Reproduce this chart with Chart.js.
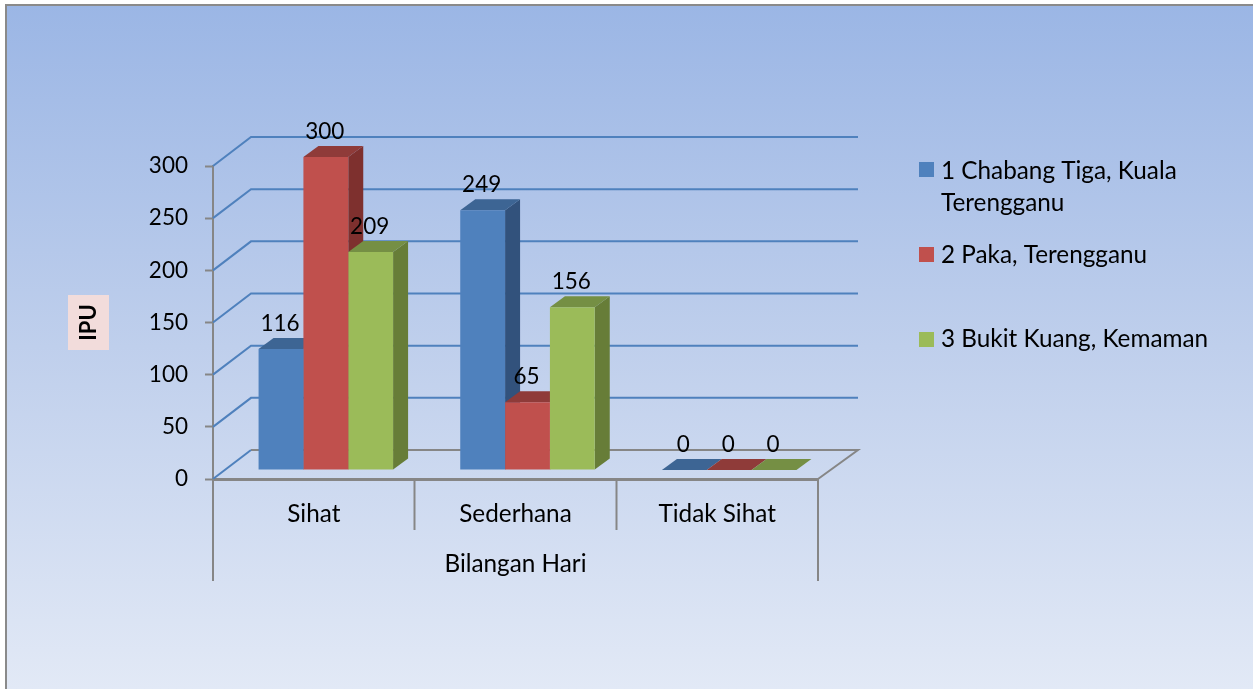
<!DOCTYPE html>
<html>
<head>
<meta charset="utf-8">
<style>html,body{margin:0;padding:0;background:#fff}canvas{display:block}</style>
<script src="https://cdn.jsdelivr.net/npm/chart.js@4/dist/chart.umd.js"></script>
</head>
<body>
<canvas id="c" width="1253" height="689"></canvas>
<script>
const categories = ["Sihat", "Sederhana", "Tidak Sihat"];
const seriesNames = ["1 Chabang Tiga, Kuala Terengganu", "2 Paka, Terengganu", "3 Bukit Kuang, Kemaman"];
const chabangTiga = [116, 249, 0];
const paka = [300, 65, 0];
const bukitKuang = [209, 156, 0];
const legendLines = [["1 Chabang Tiga, Kuala", "Terengganu"], ["2 Paka, Terengganu"], ["3 Bukit Kuang, Kemaman"]];
const axisTitleY = "IPU";
const axisTitleX = "Bilangan Hari";

const FONT = "Lato";
const SIZE = 24.3;
const NUM = 22.5;
const front = ["#4F81BD", "#C0504D", "#9BBB59"];
const side = ["#32527C", "#7E302E", "#677D38"];
const topFace = ["#3D6594", "#8F3B39", "#758F44"];
const GRID = "#4F81BD", AXIS = "#868686";
const WALL = {dx: 38, dy: -29};
const BAR = {dx: 12, dy: -9, sx: 15, sy: -11};

function poly(ctx, pts, fill) {
  ctx.beginPath();
  pts.forEach((p, i) => i ? ctx.lineTo(p[0], p[1]) : ctx.moveTo(p[0], p[1]));
  ctx.closePath();
  ctx.fillStyle = fill;
  ctx.fill();
}
function line(ctx, pts, color, w) {
  ctx.beginPath();
  pts.forEach((p, i) => i ? ctx.lineTo(p[0], p[1]) : ctx.moveTo(p[0], p[1]));
  ctx.strokeStyle = color;
  ctx.lineWidth = w;
  ctx.stroke();
}

const threeD = {
  id: "threeD",
  beforeDraw(chart) {
    const {ctx, width, height} = chart;
    ctx.save();
    const g = ctx.createLinearGradient(0, 5, 0, height);
    g.addColorStop(0, "#9BB6E5");
    g.addColorStop(0.5, "#BFCFEC");
    g.addColorStop(1, "#E2E9F6");
    ctx.fillStyle = g;
    ctx.fillRect(6, 5, width - 6, height - 5);
    line(ctx, [[6, height], [6, 5], [width, 5]], "#8A8A8A", 2);
    ctx.fillStyle = "#F2DCDB";
    ctx.fillRect(68, 295, 41, 55);
    ctx.restore();
  },
  beforeDatasetsDraw(chart) {
    const {ctx, chartArea: a} = chart;
    const y = chart.scales.y;
    ctx.save();
    y.ticks.forEach(t => {
      const py = y.getPixelForValue(t.value);
      if (t.value === 0) return;
      line(ctx, [[a.left, py], [a.left + WALL.dx, py + WALL.dy], [a.right + WALL.dx + 2, py + WALL.dy]], GRID, 2);
    });
    const b = a.bottom;
    line(ctx, [[a.left + WALL.dx, b + WALL.dy], [a.right + WALL.dx + 2, b + WALL.dy], [a.right, b]], AXIS, 2);
    line(ctx, [[a.left, b], [a.left + WALL.dx, b + WALL.dy]], GRID, 2);
    ctx.restore();

    // depth faces go under every front face, painted left to right
    ctx.save();
    ctx.translate(BAR.dx, BAR.dy);
    chart.data.datasets.forEach((ds, i) => {
      chart.getDatasetMeta(i).data.forEach(el => {
        const l = el.x - el.width / 2, r = el.x + el.width / 2;
        poly(ctx, [[r, el.y], [r + BAR.sx, el.y + BAR.sy], [r + BAR.sx, el.base + BAR.sy], [r, el.base]], side[i]);
        poly(ctx, [[l, el.y], [l + BAR.sx, el.y + BAR.sy], [r + BAR.sx, el.y + BAR.sy], [r, el.y]], topFace[i]);
      });
    });
  },
  afterDatasetsDraw(chart) {
    const {ctx, chartArea: a} = chart;
    ctx.restore();
    ctx.save();
    ctx.fillStyle = "#000";
    ctx.font = NUM + "px " + FONT;
    ctx.textAlign = "center";
    ctx.textBaseline = "middle";
    chart.data.datasets.forEach((ds, i) => {
      chart.getDatasetMeta(i).data.forEach((el, k) => {
        ctx.fillText(String(ds.data[k]), el.x + BAR.dx - 1, el.y + BAR.dy - 25);
      });
    });
    // outer category separators run down past the second label level
    line(ctx, [[a.left, a.bottom], [a.left, 581]], AXIS, 2);
    line(ctx, [[a.right, a.bottom], [a.right, 581]], AXIS, 2);
    // legend
    const boxes = [162, 247, 332];
    const rows = [171, 255, 339];
    ctx.textAlign = "left";
    ctx.font = SIZE + "px " + FONT;
    legendLines.forEach((lines, i) => {
      ctx.fillStyle = front[i];
      ctx.fillRect(919, boxes[i], 15, 15);
      ctx.fillStyle = "#000";
      lines.forEach((t, j) => ctx.fillText(t, 941, rows[i] + j * 32));
    });
    ctx.restore();
  }
};

new Chart(document.getElementById("c"), {
  type: "bar",
  data: {
    labels: categories,
    datasets: [
      {label: seriesNames[0], data: chabangTiga, backgroundColor: front[0]},
      {label: seriesNames[1], data: paka, backgroundColor: front[1]},
      {label: seriesNames[2], data: bukitKuang, backgroundColor: front[2]}
    ]
  },
  options: {
    responsive: false,
    animation: false,
    layout: {padding: {top: 166, right: 435, left: 0, bottom: 0}},
    datasets: {bar: {barPercentage: 1, categoryPercentage: 0.667}},
    plugins: {legend: {display: false}, title: {display: false}, tooltip: {enabled: false}},
    scales: {
      x: {
        afterFit(s) { s.height = 210; },
        grid: {offset: true, drawOnChartArea: false, tickLength: 51, tickWidth: 2,
               tickColor: c => (c.index === 1 || c.index === 2) ? AXIS : "transparent"},
        border: {color: AXIS, width: 3},
        ticks: {color: "#000", font: {family: FONT, size: SIZE}, padding: -30, maxRotation: 0},
        title: {display: true, text: axisTitleX, color: "#000", font: {family: FONT, size: SIZE}, padding: {top: 0, bottom: 110}}
      },
      y: {
        min: 0, max: 300,
        afterFit(s) { s.width = 213; },
        grid: {drawOnChartArea: false, tickLength: 8, tickWidth: 2, tickColor: AXIS},
        border: {color: AXIS, width: 2},
        ticks: {stepSize: 50, color: "#000", font: {family: FONT, size: NUM}, padding: 17},
        title: {display: true, text: axisTitleY, color: "#000", font: {family: FONT, size: 22, weight: "bold"}, padding: {top: 76, bottom: 0}}
      }
    }
  },
  plugins: [threeD]
});
</script>
</body>
</html>
